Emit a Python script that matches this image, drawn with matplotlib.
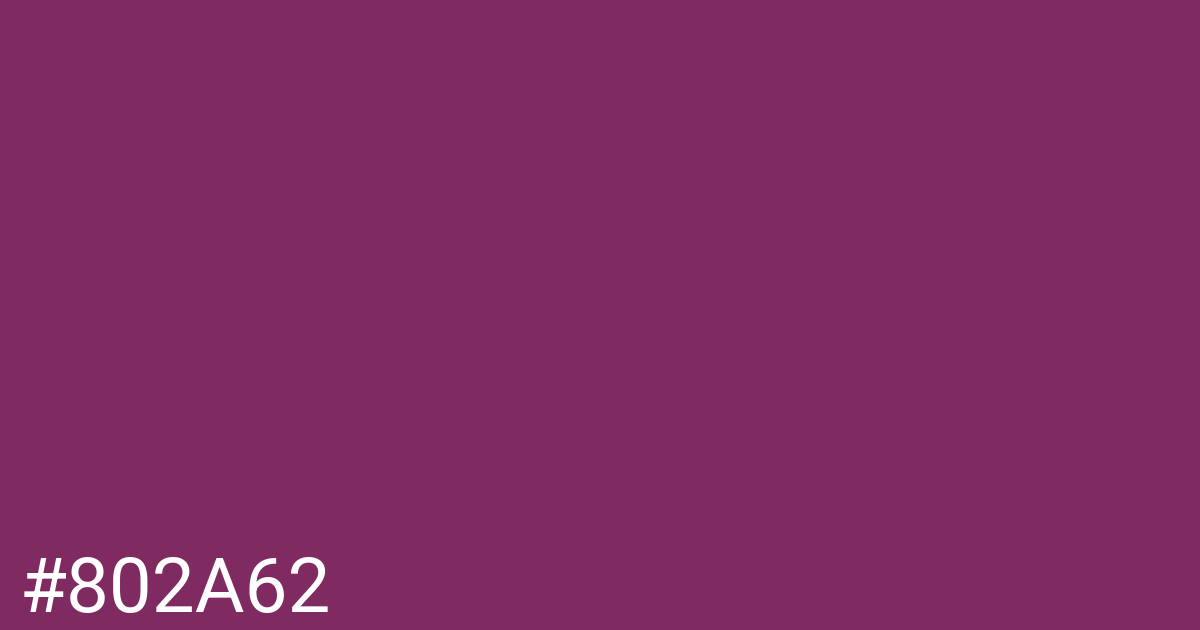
import matplotlib
matplotlib.use("Agg")
import matplotlib.pyplot as plt

# swatch colour and its label
swatch_color = "#802A62"
swatch_label = "#802A62"

fig = plt.figure(figsize=(12, 6.3), dpi=100)
fig.patch.set_facecolor(swatch_color)

ax = fig.add_axes([0, 0, 1, 1])
ax.set_facecolor(swatch_color)
ax.set_xlim(0, 1200)
ax.set_ylim(630, 0)
ax.axis("off")

# label in the lower left corner, baseline near y=612
ax.text(20, 612, swatch_label, color="white", fontsize=55,
        family=["Roboto", "DejaVu Sans"], ha="left", va="baseline")

fig.savefig("out.png", dpi=100, facecolor=swatch_color)
